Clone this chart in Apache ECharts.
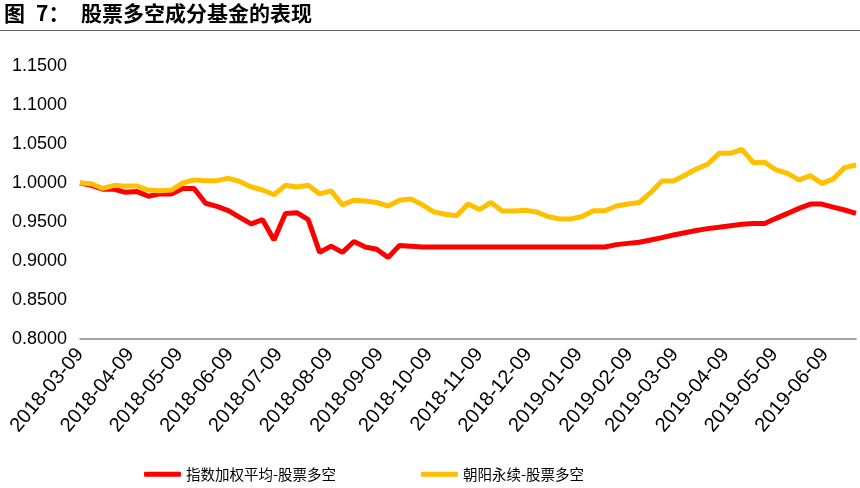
<!DOCTYPE html>
<html>
<head>
<meta charset="utf-8">
<script src="https://cdn.jsdelivr.net/npm/echarts@6/dist/echarts.min.js"></script>
<style>
html,body{margin:0;padding:0;background:#fff;}
#chart{width:860px;height:488px;}
</style>
</head>
<body>
<div id="chart"></div>
<script>
var titleFig = '图';
var titleNum = '7：';
var titleMain = '股票多空成分基金的表现';
var seriesNames = ['指数加权平均-股票多空', '朝阳永续-股票多空'];
var dates = [
 '2018-03-09','2018-03-16','2018-03-23','2018-03-30','2018-04-06','2018-04-13','2018-04-20','2018-04-27',
 '2018-05-04','2018-05-11','2018-05-18','2018-05-25','2018-06-01','2018-06-08','2018-06-15','2018-06-22','2018-06-29',
 '2018-07-06','2018-07-13','2018-07-20','2018-07-27','2018-08-03','2018-08-10','2018-08-17','2018-08-24','2018-08-31',
 '2018-09-07','2018-09-14','2018-09-21','2018-09-28','2018-10-05','2018-10-12','2018-10-19','2018-10-26',
 '2018-11-02','2018-11-09','2018-11-16','2018-11-23','2018-11-30','2018-12-07','2018-12-14','2018-12-21','2018-12-28',
 '2019-01-04','2019-01-11','2019-01-18','2019-01-25','2019-02-01','2019-02-08','2019-02-15','2019-02-22',
 '2019-03-01','2019-03-08','2019-03-15','2019-03-22','2019-03-29','2019-04-05','2019-04-12','2019-04-19','2019-04-26',
 '2019-05-03','2019-05-10','2019-05-17','2019-05-24','2019-05-31','2019-06-07','2019-06-14','2019-06-21','2019-06-28'
];
var weightedAvg = [
 1.000,0.997,0.992,0.992,0.988,0.989,0.983,0.986,
 0.986,0.993,0.993,0.974,0.970,0.9645,0.956,0.9475,0.953,
 0.927,0.961,0.962,0.953,0.911,0.919,0.911,0.925,0.918,
 0.915,0.9045,0.920,0.919,0.918,0.918,0.918,0.918,
 0.918,0.918,0.918,0.918,0.918,0.918,0.918,0.918,0.918,
 0.918,0.918,0.918,0.918,0.921,0.9226,0.924,0.927,
 0.930,0.9333,0.9363,0.939,0.9415,0.9432,0.9453,0.947,0.948,
 0.948,0.9547,0.961,0.9675,0.973,0.973,0.969,0.9654,0.961
];
var zhaoyang = [
 1.000,0.999,0.993,0.997,0.996,0.996,0.991,0.990,
 0.991,1.000,1.004,1.003,1.003,1.006,1.002,0.995,0.991,
 0.985,0.997,0.995,0.997,0.986,0.990,0.972,0.978,0.977,
 0.975,0.9705,0.978,0.9795,0.972,0.963,0.960,0.958,
 0.973,0.966,0.975,0.964,0.964,0.965,0.963,0.957,0.954,
 0.954,0.957,0.9645,0.9645,0.9705,0.973,0.975,0.9876,
 1.0026,1.0026,1.010,1.018,1.024,1.038,1.038,1.043,1.026,
 1.0265,1.0167,1.0124,1.004,1.0094,0.9996,1.005,1.0197,1.023
];
var tickLabels = [
 '2018-03-09','2018-04-09','2018-05-09','2018-06-09','2018-07-09','2018-08-09','2018-09-09','2018-10-09',
 '2018-11-09','2018-12-09','2019-01-09','2019-02-09','2019-03-09','2019-04-09','2019-05-09','2019-06-09'
];
var yTicks = { min: 0.8, max: 1.15, interval: 0.05 };

function ts(s){ var p = s.split('-'); return Date.UTC(+p[0], +p[1]-1, +p[2]); }
function fmt(v){
  var d = new Date(v);
  var m = d.getUTCMonth()+1, dd = d.getUTCDate();
  return d.getUTCFullYear() + '-' + (m<10?'0':'') + m + '-' + (dd<10?'0':'') + dd;
}
function pairs(vals){ return vals.map(function(v,i){ return [ts(dates[i]), v]; }); }

var chart = echarts.init(document.getElementById('chart'));
var numFont = 'Liberation Sans';
var titleFont = 'bold 21px "Noto Sans CJK SC"';
chart.setOption({
  animation: false,
  backgroundColor: '#ffffff',
  graphic: [
    { type: 'text', left: 4, top: 3, style: { text: titleFig, font: titleFont, fill: '#000' } },
    { type: 'text', left: 36, top: 3, style: { text: titleNum, font: titleFont, fill: '#000' } },
    { type: 'text', left: 81, top: 3, style: { text: titleMain, font: titleFont, fill: '#000' } },
    { type: 'line', shape: { x1: 0, y1: 30.5, x2: 860, y2: 30.5 }, style: { stroke: '#666', lineWidth: 1 } }
  ],
  grid: { left: 80, right: 4, top: 66, bottom: 149, containLabel: false },
  legend: {
    left: 139, top: 462, itemGap: 85, itemWidth: 37, itemHeight: 5, icon: 'roundRect',
    textStyle: { fontFamily: 'Noto Sans CJK SC', fontSize: 14.5, color: '#000' },
    data: seriesNames
  },
  xAxis: {
    type: 'value',
    min: ts(dates[0]),
    max: ts(dates[dates.length-1]),
    axisLine: { lineStyle: { color: '#888', width: 1.5 } },
    axisTick: { show: false },
    splitLine: { show: false },
    axisLabel: {
      rotate: 50, margin: 12, color: '#000', fontFamily: numFont, fontSize: 20,
      customValues: tickLabels.map(ts),
      formatter: function(v){ return fmt(v); },
      showMinLabel: true, showMaxLabel: true, hideOverlap: false
    }
  },
  yAxis: {
    type: 'value', min: yTicks.min, max: yTicks.max, interval: yTicks.interval,
    axisLine: { show: false }, axisTick: { show: false }, splitLine: { show: false },
    axisLabel: { margin: 13, color: '#000', fontFamily: numFont, fontSize: 18,
      formatter: function(v){ return v.toFixed(4); } }
  },
  series: [
    { name: seriesNames[0], type: 'line', data: pairs(weightedAvg), symbol: 'none',
      lineStyle: { color: '#FF0000', width: 5 }, itemStyle: { color: '#FF0000' } },
    { name: seriesNames[1], type: 'line', data: pairs(zhaoyang), symbol: 'none',
      lineStyle: { color: '#FFC000', width: 5 }, itemStyle: { color: '#FFC000' } }
  ]
});
</script>
</body>
</html>
